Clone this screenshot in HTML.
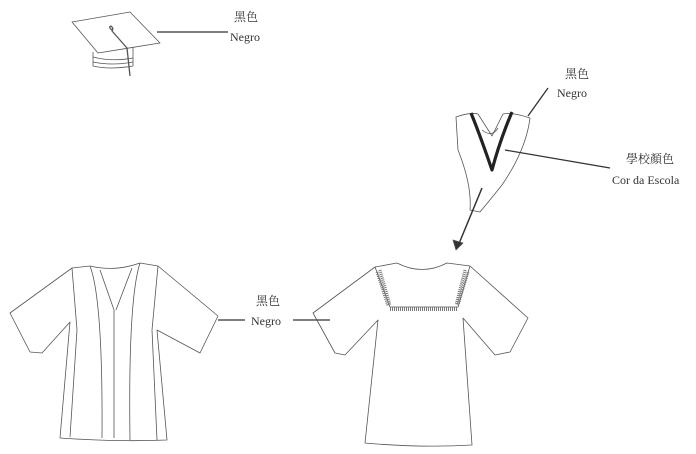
<!DOCTYPE html>
<html><head><meta charset="utf-8"><style>
html,body{margin:0;padding:0;background:#fff;}
svg{display:block;}
text{font-family:"Liberation Serif","Noto Serif CJK SC",serif;fill:#333;font-size:12px;}
</style></head><body>
<svg width="696" height="454" viewBox="0 0 696 454" xmlns="http://www.w3.org/2000/svg">
<g fill="none" stroke="#555" stroke-width="0.8" stroke-linejoin="round">
<!-- cap -->
<path d="M72 22 L130 12 L160 43 L98 53 Z"/>
<path d="M93 52 L93 66 Q110 70 133 66 L133 47"/>
<path d="M93 57 Q112 62 133 58"/>
<path d="M93 62 Q112 66 133 62"/>
<path d="M112 30 Q108 27 111 26 Q114 28 112 31 L127 48 L130 76" stroke-width="1.3"/>
<line x1="157" y1="32" x2="228" y2="32" stroke-width="1.3" stroke="#333"/>
<!-- hood -->
<path d="M456 117 Q470 112 478 114 L492 136 L503 114 Q512 112 530 118 Q526 150 502 185 Q490 200 480 212 L470 210 Q472 185 458 150 Z"/>
<path d="M471 113 Q480 135 492 170 Q500 140 512 112" stroke="#222" stroke-width="3.2"/>
<path d="M482 130 Q492 138 498 128" />
<line x1="548" y1="88" x2="528" y2="116" stroke-width="1.3" stroke="#333"/>
<line x1="505" y1="150" x2="610" y2="168" stroke-width="1.3" stroke="#333"/>
<line x1="482" y1="188" x2="458" y2="246" stroke-width="1.5" stroke="#333"/>
<path d="M453 240 L456 250 L463 243 Z" fill="#333"/>
<!-- left gown -->
<path d="M90 266 Q115 272 140 263"/>
<path d="M90 266 L72 268 L10 313 L30 352 L42 353 L70 322 L60 438 Q115 442 167 440 L157 330 L200 353 L218 316 L158 266 L140 263"/>
<path d="M72 268 L77 330 L70 437"/>
<path d="M158 266 L152 330 L157 440"/>
<path d="M90 266 Q103 300 102 438"/>
<path d="M140 263 Q128 300 130 440"/>
<path d="M100 270 L114 310 L114 438"/>
<path d="M132 268 L116 310"/>
<line x1="218" y1="320" x2="245" y2="320" stroke-width="1.3" stroke="#333"/>
<line x1="293" y1="320" x2="330" y2="320" stroke-width="1.3" stroke="#333"/>
<!-- right gown -->
<path d="M397 263 Q422 276 447 263 L470 266 L528 318 L510 352 L495 355 L463 318 L472 445 Q420 448 365 443 L378 320 L345 355 L335 353 L313 313 L375 267 Z"/>
<path d="M375 267 L390 307 L458 307 L470 266"/>
<path d="M377 272 L388 306 M380 270 L390 305" stroke-width="3" stroke="#777" stroke-dasharray="1 1"/>
<path d="M468 272 L458 305 M465 270 L456 305" stroke-width="3" stroke="#777" stroke-dasharray="1 1"/>
<path d="M390 309 L458 309" stroke-width="4" stroke="#777" stroke-dasharray="1 1"/>
</g>
<text x="234" y="21">黑色</text>
<text x="230" y="41">Negro</text>
<text x="565" y="78">黑色</text>
<text x="557" y="97">Negro</text>
<text x="626" y="163">學校顏色</text>
<text x="612" y="184">Cor da Escola</text>
<text x="256" y="305">黑色</text>
<text x="251" y="325">Negro</text>
</svg>
</body></html>
